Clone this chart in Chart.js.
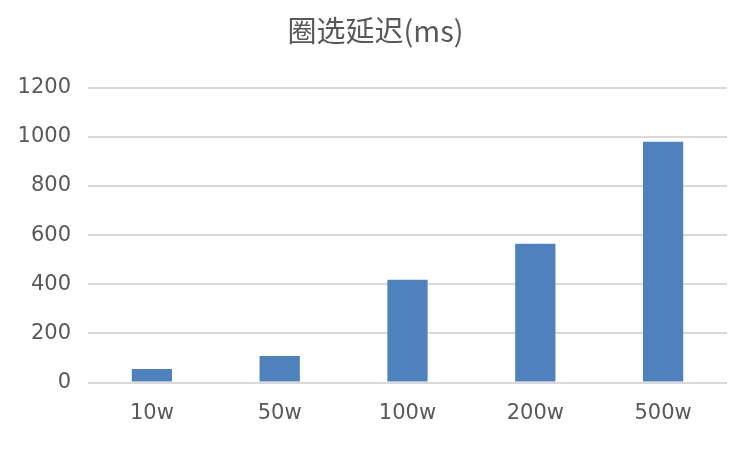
<!DOCTYPE html>
<html>
<head>
<meta charset="utf-8">
<script src="https://cdn.jsdelivr.net/npm/chart.js@4"></script>
<style>
  html, body { margin: 0; padding: 0; background: #fff; }
  #wrap { width: 751px; height: 451px; }
</style>
</head>
<body>
<div id="wrap"><canvas id="latencyChart" width="751" height="451"></canvas></div>
<script>
// Data
const categories = ['10w', '50w', '100w', '200w', '500w'];
const latencyMs = [55, 108, 418, 565, 980];
const yTicks = [0, 200, 400, 600, 800, 1000, 1200];

const textColor = '#595959';
const titleFont = '"Noto Sans CJK SC", "Noto Sans", sans-serif';
const tickFont = '"DejaVu Sans", sans-serif';

// Title should be centred on the whole canvas, not on the padded box
const centreTitle = {
    id: 'centreTitle',
    afterLayout(chart) {
        const tb = chart.titleBlock;
        if (!tb) return;
        tb.left = 0;
        tb.right = chart.width;
        tb.width = chart.width;
    }
};

const ctx = document.getElementById('latencyChart').getContext('2d');

new Chart(ctx, {
    type: 'bar',
    data: {
        labels: categories,
        datasets: [
            {
                label: '圈选延迟(ms)',
                data: latencyMs,
                backgroundColor: '#4f81bd',
                borderWidth: 0,
                categoryPercentage: 1,
                barPercentage: 0.315
            }
        ]
    },
    plugins: [centreTitle],
    options: {
        responsive: false,
        animation: false,
        layout: { padding: { left: 0, right: 24, top: 0, bottom: 0 } },
        plugins: {
            legend: { display: false },
            tooltip: { enabled: false },
            title: {
                display: true,
                text: '圈选延迟(ms)',
                color: textColor,
                font: { family: titleFont, size: 29, weight: 'normal', lineHeight: 1.2 },
                padding: { top: 14, bottom: 39 }
            }
        },
        scales: {
            x: {
                grid: { display: false, drawTicks: false },
                border: { display: false },
                ticks: {
                    color: textColor,
                    font: { family: tickFont, size: 21 },
                    padding: 18
                },
                afterFit: function (scale) { scale.height = 68.5; }
            },
            y: {
                min: 0,
                max: 1200,
                afterBuildTicks: function (scale) {
                    scale.ticks = yTicks.map(v => ({ value: v }));
                },
                grid: { color: '#d9d9d9', lineWidth: 2, drawTicks: false },
                border: { display: false },
                ticks: {
                    color: textColor,
                    font: { family: tickFont, size: 21 },
                    padding: 17,
                    callback: function (value) { return String(value); }
                },
                afterFit: function (scale) { scale.width = 88; }
            }
        }
    }
});
</script>
</body>
</html>
